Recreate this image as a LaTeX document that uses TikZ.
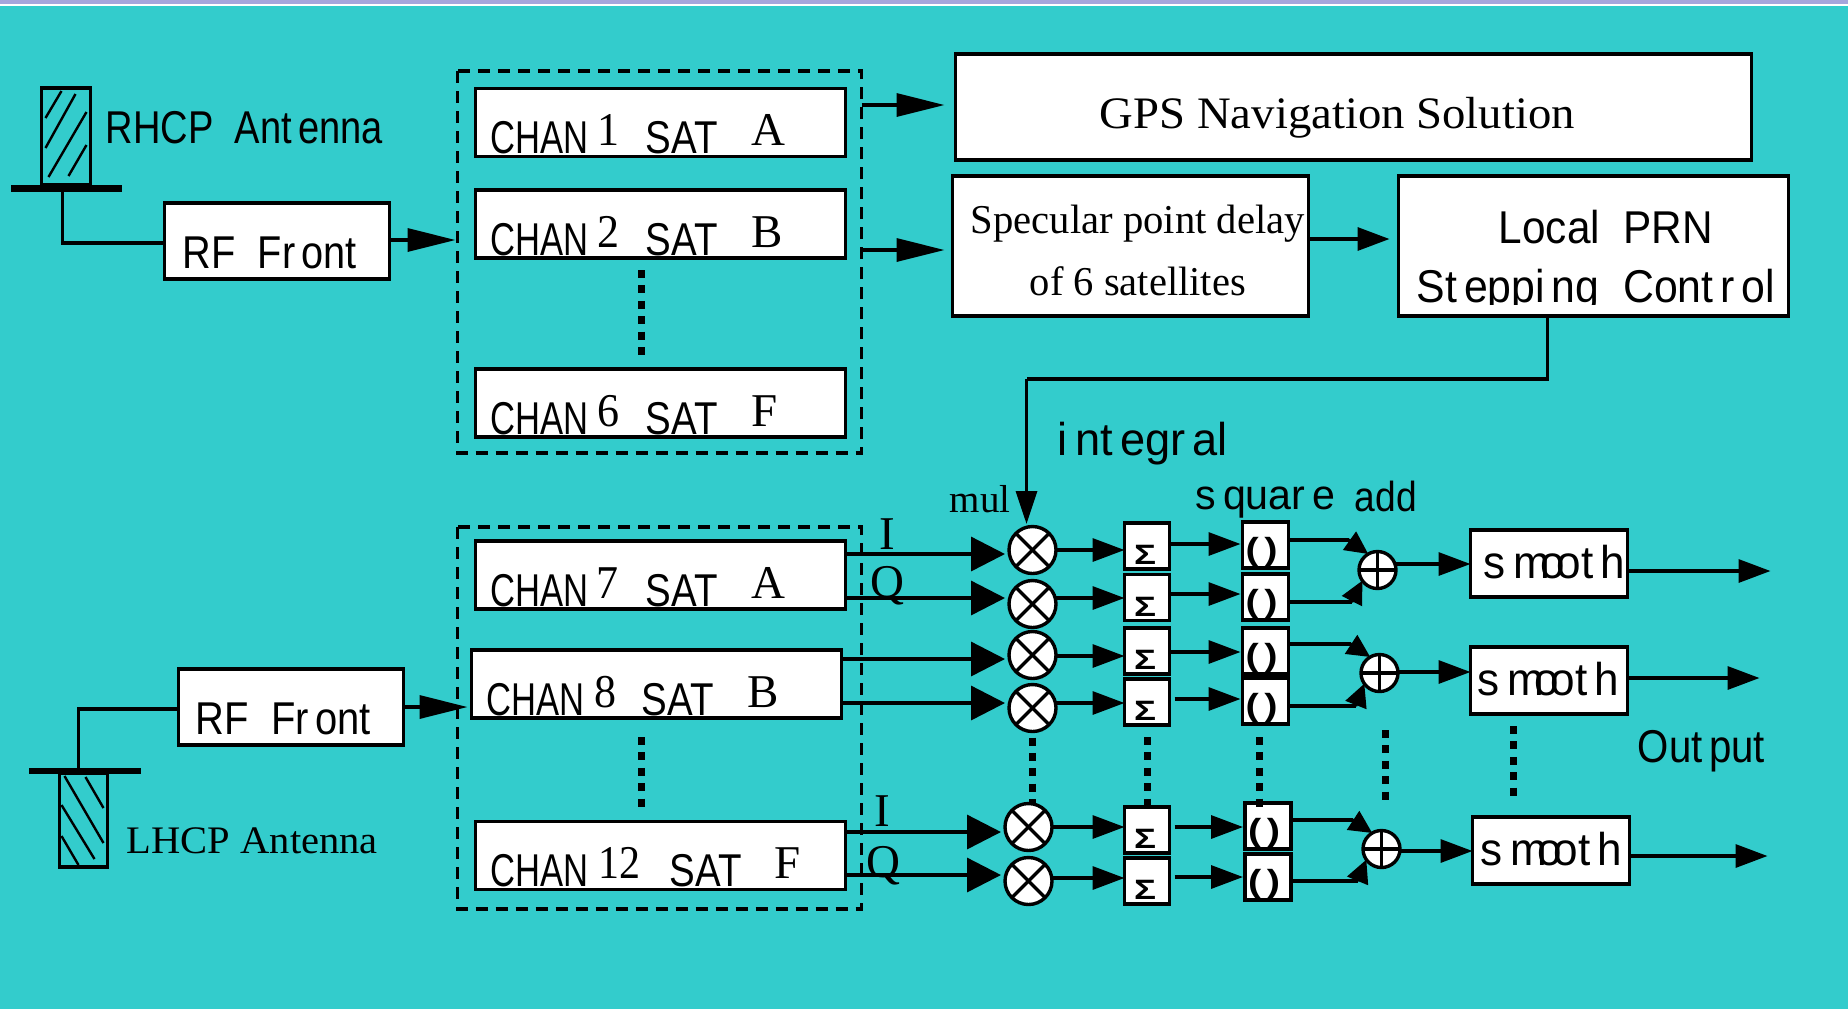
\documentclass[tikz,border=0pt]{standalone}
\usepackage{graphicx}
\usepackage{fontspec}
\setmainfont{Liberation Serif}
\setsansfont{Liberation Sans}
\usetikzlibrary{arrows.meta}
\definecolor{panel}{RGB}{51,204,204}
\definecolor{strip}{RGB}{166,166,220}
\newcommand{\narrowto}[2]{\resizebox{#1pt}{\height}{#2}}
\newcommand{\gp}{\kern0.16em}
\tikzset{
	blk/.style 2 args={draw, fill=white, line width=1.6pt, inner sep=0pt, outer sep=0pt, minimum width=#1*0.5pt, minimum height=#2*0.5pt},
	round/.style={draw, fill=white, circle, line width=1.7pt, inner sep=0pt, outer sep=0pt, minimum size=#1*0.5pt},
	sanslabel/.style={font=\sffamily\fontsize{23}{26}\selectfont, inner sep=0pt, anchor=base west},
	seriflabel/.style={font=\fontsize{23.5}{26}\selectfont, inner sep=0pt, anchor=base west},
	wire/.style={line width=1.7pt},
	hatch/.style={line width=1.2pt},
	group/.style={line width=1.8pt, dash pattern=on 6pt off 4pt},
	dots/.style={line width=3.5pt, dash pattern=on 4pt off 3.7pt},
	headS/.style={wire, -{Triangle[length=16pt, width=11.5pt]}},
	headL/.style={wire, -{Triangle[length=24pt, width=11.5pt]}},
	headB/.style={wire, -{Triangle[length=17pt, width=17pt]}},
	headA/.style={wire, -{Triangle[length=11.5pt, width=11pt]}}
}
\begin{document}
\begin{tikzpicture}[x=0.5pt, y=-0.5pt]
	\useasboundingbox (0.5,0) rectangle (1848.5,1009);
	\fill[panel] (0,0) rectangle (1849,1009);
	\fill[strip] (0,0) rectangle (1849,4);
	\fill[white] (0,4) rectangle (1849,6);
	
	\draw[group] (458,71) rectangle (862,453);
	\draw[group] (458,527) rectangle (862,909);
	\foreach \n/\cx/\cy/\dw/\dx/\sx/\lx/\l in {1/661/122.5/11/122/170/276/A, 2/661/224/11/122/170/276/B, 6/661/403/11/122/170/276/F, 7/661/575/11/121/170/276/A, 8/657/684/11/123/170/276/B, 12/661/855.5/21/123/194/299/F}{
		\node[blk={370}{68}] (chan\n) at (\cx,\cy){};
		\node[sanslabel] (chantxt\n) at ([xshift=7.5pt, yshift=1.5pt]chan\n.south west){\narrowto{49}{CHAN}};
		\node[seriflabel] (digit\n) at ([xshift=\dx*0.5pt, yshift=5.5pt]chan\n.south west){\narrowto{\dw}{\n}};
		\node[sanslabel] (sat\n) at ([xshift=\sx*0.5pt, yshift=1.5pt]chan\n.south west){\narrowto{36}{SAT}};
		\node[seriflabel] (letter\n) at ([xshift=\lx*0.5pt, yshift=5.5pt]chan\n.south west){\l};
	}
	\draw[dots] (642,270) -- (642,356);
	\draw[dots] (642,737) -- (642,807);
	
	% antennas
	\draw[line width=1.7pt] (42,88) rectangle (91,185);
	\draw[hatch] (46,118) -- (62,91);
	\draw[hatch] (46,148) -- (76,94);
	\draw[hatch] (49,177) -- (87,112);
	\draw[hatch] (69,176) -- (87,145);
	\fill (11,185) rectangle (122,192);
	\node[sanslabel] (rhcp) at (106,143){\narrowto{138.5}{RHCP~~Ant\gp enna}};
	\draw[line width=1.7pt] (60,773) rectangle (108,867);
	\draw[hatch] (86,777) -- (104,808);
	\draw[hatch] (65,776) -- (104,843);
	\draw[hatch] (62,805) -- (95,859);
	\draw[hatch] (62,836) -- (79,865);
	\fill (29,768) rectangle (141,774);
	\node[seriflabel, font=\fontsize{19.5}{22}\selectfont] (lhcp) at (127,853){\narrowto{125.5}{LHCP Antenna}};
	
	\node[blk={225}{76}] (rfa) at (277.5,241){};
	\node[sanslabel] (rfatxt) at (183,268){\narrowto{87}{RF~~Fr\gp ont}};
	\node[blk={225}{76}] (rfb) at (291.5,707){};
	\node[sanslabel] (rfbtxt) at (196,734){\narrowto{87.5}{RF~~Fr\gp ont}};
	\coordinate (anta) at (63,192);
	\coordinate (antb) at (79,768);
	\coordinate (groupa) at (456,240);
	\coordinate (groupb) at (468,707);
	\draw[wire] (anta) |- (rfa.west |- 0,243);
	\draw[wire] (antb) |- (rfb.west |- 0,709);
	\draw[headL] (rfa.east |- groupa) -- (groupa);
	\draw[headL] (rfb.east |- groupb) -- (groupb);
	
	\node[blk={796}{106}] (gps) at (1354,107){};
	\node[seriflabel, font=\fontsize{22.5}{25}\selectfont] (gpstxt) at (1100,128){\narrowto{237.5}{GPS Navigation Solution}};
	\node[blk={356}{140}] (spec) at (1131,246){};
	\node[seriflabel, font=\fontsize{20.5}{23}\selectfont] (speca) at (971,233){\narrowto{167}{Specular point delay}};
	\node[seriflabel, font=\fontsize{20.5}{23}\selectfont] (specb) at (1030,295){\narrowto{108}{of 6 satellites}};
	\node[blk={390}{140}] (prn) at (1594,246){};
	\node[sanslabel] (prna) at (1499,243){\narrowto{107}{Local~~PRN}};
	\begin{scope}
		\clip (1410,255) rectangle (1785,304);
		\node[sanslabel] (prnb) at (1417,302){\narrowto{179}{St\gp eppi\gp ng~~Cont\gp r\gp ol}};
	\end{scope}
	\coordinate (groupc) at (945,105);
	\coordinate (groupd) at (945,250);
	\draw[headL] (862,105) -- (groupc);
	\draw[headL] (862,250) -- (groupd);
	\draw[headS] (spec.east |- 0,239) -- ([xshift=-4.5pt]prn.west |- 0,239);
	
	\foreach \n/\mx/\my/\sy/\qx/\qy in {1/1033/550/546/1266/545, 2/1033/604/597.5/1266/597, 3/1033/655/651/1266/651, 4/1033/708/702/1266/701, 5/1029/827/830/1268.5/826, 6/1029/881/881/1268.5/877}{
		\node[round=47] (mul\n) at (\mx,\my){};
		\draw[wire] (mul\n.45) -- (mul\n.225);
		\draw[wire] (mul\n.135) -- (mul\n.315);
		\node[blk={45}{46}] (sigma\n) at (1147.5,\sy){};
		\node[font=\sffamily\bfseries\fontsize{14}{14}\selectfont, inner sep=0pt] (sigmatxt\n) at ([xshift=-1pt, yshift=-4.5pt]sigma\n.center){\narrowto{11}{Σ}};
		\node[blk={46}{46}] (sq\n) at (\qx,\qy){};
		\node[font=\sffamily\bfseries\fontsize{16}{16}\selectfont, inner sep=0pt] (sqtxt\n) at ([xshift=-2pt, yshift=-3.5pt]sq\n.center){\narrowto{16}{(\kern.14em)}};
	}
	\foreach \c/\n/\y in {chan7/1/554, chan7/2/598, chan8/3/659, chan8/4/703, chan12/5/832, chan12/6/875}{
		\draw[headB] (\c.east |- 0,\y) -- ([xshift=-2pt]mul\n.west |- 0,\y);
	}
	\foreach \n/\ay/\by/\bx in {1/550/544/0, 2/598/594/0, 3/656/652/0, 4/703/699/2.5, 5/827/827/2.5, 6/878/877/2.5}{
		\draw[headS] (mul\n.east |- 0,\ay) -- (sigma\n.west |- 0,\ay);
		\draw[headS] ([xshift=\bx*1pt]sigma\n.east |- 0,\by) -- ([xshift=-1pt]sq\n.west |- 0,\by);
	}
	
	\foreach \a/\ax/\ay/\up/\dn/\ua/\da/\sa/\sb/\bend/\sw/\sh/\tx/\ty/\ox/\oy in {1/1378/570/1/2/540/602/1349/1352/564/1/530/13/578/1771/571, 2/1380/673/3/4/644/706/1351/1356/672/1/647/7/695/1760/678, 3/1382/849/5/6/820/881/1353/1358/851/3/817/8/865/1768/856}{
		\node[round=37] (add\a) at (\ax,\ay){};
		\draw[wire] (add\a.north) -- (add\a.south);
		\draw[wire] (add\a.west) -- (add\a.east);
		\node[blk={157}{67}, anchor=north west] (smooth\a) at (1470+\sw,\sh){};
		\node[sanslabel] (smoothtxt\a) at ([xshift=\tx*0.5pt, yshift=(\sh+67-\ty)*0.5pt]smooth\a.south west){\narrowto{70.5}{s\gp m\kern-.2em o\kern-.2em ot\gp h}};
		\draw[wire] (sq\up.east |- 0,\ua) -- (\sa,\ua);
		\draw[headA] (\sa,\ua) -- (add\a.120);
		\draw[wire] (sq\dn.east |- 0,\da) -- (\sb,\da);
		\draw[headA] (\sb,\da) -- (add\a.215);
		\draw[headS] (add\a.east |- 0,\bend) -- (smooth\a.west |- 0,\bend);
		\coordinate (out\a) at (\ox,\oy);
		\draw[headS] (smooth\a.east |- out\a) -- (out\a);
	}
	
	\coordinate (prnbend) at (1548,379);
	\coordinate (multop) at (1027,524);
	\draw[wire] (prn.south -| prnbend) -- (prnbend) -- (multop |- prnbend);
	\draw[wire, -{Triangle[length=16.5pt, width=10.5pt]}] (multop |- prnbend) -- (multop);
	
	\draw[dots] (mul4.south) ++(0,6) -- (mul5.north -| mul4.south);
	\draw[dots] (sigma4.south) ++(0,12) -- (sigma5.north);
	\draw[dots] (1260,737) -- (1260,807);
	\draw[dots] (1386,730) -- (1386,800);
	\draw[dots] (1514,726) -- (1514,797);
	
	\node[seriflabel] (ia) at (880,549){I};
	\node[seriflabel] (qa) at (871,597){Q};
	\node[seriflabel] (ib) at (875,826){I};
	\node[seriflabel] (qb) at (867,877){Q};
	\node[seriflabel, font=\fontsize{19.5}{22}\selectfont] (mullab) at (950,512){mul};
	\node[sanslabel] (intlab) at (1058,455){\narrowto{85}{i\gp nt\gp egr\gp al}};
	\node[sanslabel, font=\sffamily\fontsize{21}{24}\selectfont] (squarelab) at (1196,509){\narrowto{69.5}{s\gp quar\gp e}};
	\node[sanslabel, font=\sffamily\fontsize{21}{24}\selectfont] (addlab) at (1355,511){\narrowto{31}{add}};
	\node[sanslabel] (outlab) at (1638,762){\narrowto{63.5}{Out\gp put}};
\end{tikzpicture}
\end{document}
